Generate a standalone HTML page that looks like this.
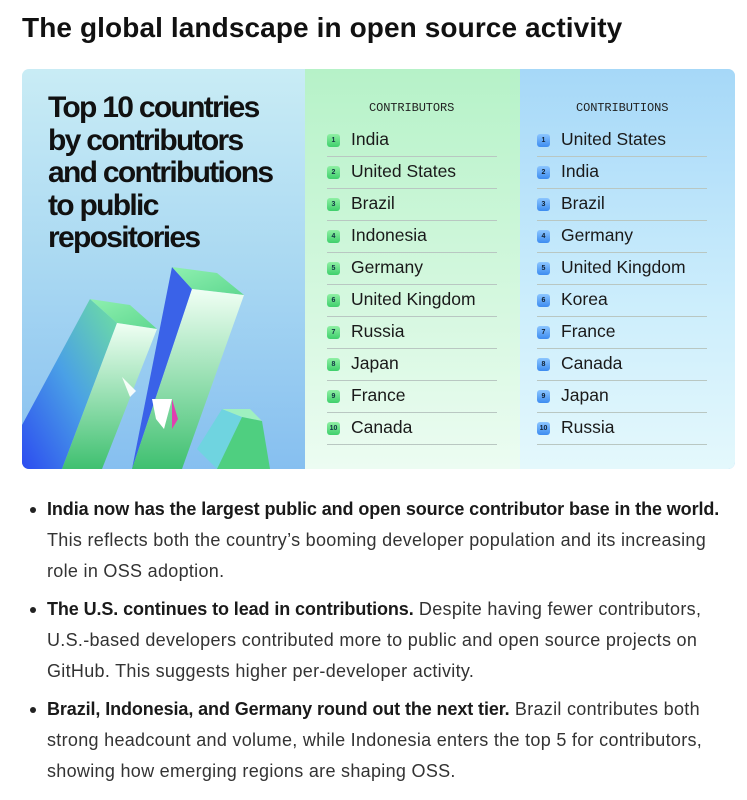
<!DOCTYPE html>
<html><head><meta charset="utf-8"><style>
*{margin:0;padding:0;box-sizing:border-box}
body{width:747px;height:800px;background:#fff;font-family:"Liberation Sans",sans-serif;color:#1f1f1f;position:relative;overflow:hidden}
.t{position:absolute;white-space:nowrap}
h1{position:absolute;left:22px;top:12px;font-size:28px;font-weight:bold;letter-spacing:0.1px;color:#111}
.card{position:absolute;left:22px;top:69px;width:713px;height:400px;border-radius:7px;overflow:hidden;background:linear-gradient(180deg,#c9ecf5 0%,#a9d8f2 50%,#86bff0 100%)}
.mid{position:absolute;left:283px;top:0;width:215px;height:400px;background:linear-gradient(180deg,#b6f2c8 0%,#d6f8e0 60%,#ecfcf2 100%)}
.right{position:absolute;left:498px;top:0;width:215px;height:400px;background:linear-gradient(180deg,#a6d8f8 0%,#cdeefc 60%,#e4f8fc 100%)}
.hd{position:absolute;font-family:"Liberation Mono",monospace;font-size:12px;color:#222;letter-spacing:-0.1px}
.row{position:absolute;height:32px;border-bottom:1px solid #b9c7c2;font-size:17.5px;color:#1a1a1a}
.b{position:absolute;left:0;top:9px;width:13px;height:13px;border-radius:3px;font-size:7px;font-weight:bold;text-align:center;line-height:13px}
.g .b{background:linear-gradient(180deg,#8ff0a4,#3fcf6c);color:#134}
.bl .b{background:linear-gradient(180deg,#8cc6ff,#3d8cf0);color:#123}
.row span.n{position:absolute;left:24px;top:4px}
.big{position:absolute;left:26px;top:23px;font-size:30px;font-weight:bold;line-height:32.5px;letter-spacing:-1.7px;color:#111}
.txt{font-size:18px;line-height:31px;color:#333;letter-spacing:0.3px}
.txt b{color:#1a1a1a;letter-spacing:-0.1px}
.dot{position:absolute;left:30px;width:6px;height:6px;border-radius:50%;background:#222}
</style></head><body>
<h1>The global landscape in open source activity</h1>
<div class="card">
 <div class="big">Top 10 countries<br>by contributors<br>and contributions<br>to public<br>repositories</div>
 <svg style="position:absolute;left:0;top:180px" width="283" height="220">
  <defs>
   <linearGradient id="f1" x1="0" y1="1" x2="1" y2="0"><stop offset="0" stop-color="#2c4cf0"/><stop offset="0.5" stop-color="#4aa0e6"/><stop offset="1" stop-color="#6fe0a0"/></linearGradient>
   <linearGradient id="f2" x1="0" y1="0" x2="0" y2="1"><stop offset="0" stop-color="#f0fff4"/><stop offset="1" stop-color="#3fc070"/></linearGradient>
   <linearGradient id="tp" x1="0" y1="0" x2="1" y2="1"><stop offset="0" stop-color="#8ff0b0"/><stop offset="1" stop-color="#5fd890"/></linearGradient>
  </defs>
  <polygon points="0,176 0,220 40,220 95,74 68,50" fill="url(#f1)"/>
  <polygon points="68,50 95,74 135,80 108,56" fill="url(#tp)"/>
  <polygon points="95,74 135,80 80,220 40,220" fill="url(#f2)"/>
  <polygon points="110,220 170,40 150,18" fill="#3a62e8"/>
  <polygon points="150,18 170,40 222,46 195,24" fill="url(#tp)"/>
  <polygon points="170,40 222,46 160,220 110,220" fill="url(#f2)"/>
  <polygon points="175,200 200,160 220,168 195,220" fill="#6fd4e0"/>
  <polygon points="200,160 228,160 240,172 220,168" fill="#9ff0c0"/>
  <polygon points="220,168 240,172 248,220 195,220" fill="#4fcf80"/>
  <path d="M100,128 l14,14 l-6,6 z" fill="#fff" opacity="0.9"/>
  <path d="M130,150 l20,0 l-8,30 l-8,-10 z" fill="#fff"/>
  <path d="M150,150 l6,20 l-6,10 z" fill="#e040b0"/>
 </svg>
 <div class="mid"></div><div class="right"></div>
</div>
<div class="hd" style="left:369px;top:101px">CONTRIBUTORS</div>
<div class="hd" style="left:576px;top:101px">CONTRIBUTIONS</div>
<div id="c1"></div>
<script>
var a=["India","United States","Brazil","Indonesia","Germany","United Kingdom","Russia","Japan","France","Canada"];
var b=["United States","India","Brazil","Germany","United Kingdom","Korea","France","Canada","Japan","Russia"];
var h="";
for(var i=0;i<10;i++){
 var y=125+i*32;
 h+='<div class="row g" style="left:327px;top:'+y+'px;width:170px"><div class="b">'+(i+1)+'</div><span class="n">'+a[i]+'</span></div>';
 h+='<div class="row bl" style="left:537px;top:'+y+'px;width:170px"><div class="b">'+(i+1)+'</div><span class="n">'+b[i]+'</span></div>';
}
document.getElementById("c1").innerHTML=h;
</script>
<div class="dot" style="top:507px"></div>
<div class="t txt" style="left:47px;top:494px"><b>India now has the largest public and open source contributor base in the world.</b></div>
<div class="t txt" style="left:47px;top:525px">This reflects both the country’s booming developer population and its increasing</div>
<div class="t txt" style="left:47px;top:556px">role in OSS adoption.</div>
<div class="dot" style="top:607px"></div>
<div class="t txt" style="left:47px;top:594px"><b>The U.S. continues to lead in contributions.</b> Despite having fewer contributors,</div>
<div class="t txt" style="left:47px;top:625px">U.S.-based developers contributed more to public and open source projects on</div>
<div class="t txt" style="left:47px;top:656px">GitHub. This suggests higher per-developer activity.</div>
<div class="dot" style="top:707px"></div>
<div class="t txt" style="left:47px;top:694px"><b>Brazil, Indonesia, and Germany round out the next tier.</b> Brazil contributes both</div>
<div class="t txt" style="left:47px;top:725px">strong headcount and volume, while Indonesia enters the top 5 for contributors,</div>
<div class="t txt" style="left:47px;top:756px">showing how emerging regions are shaping OSS.</div>
</body></html>
